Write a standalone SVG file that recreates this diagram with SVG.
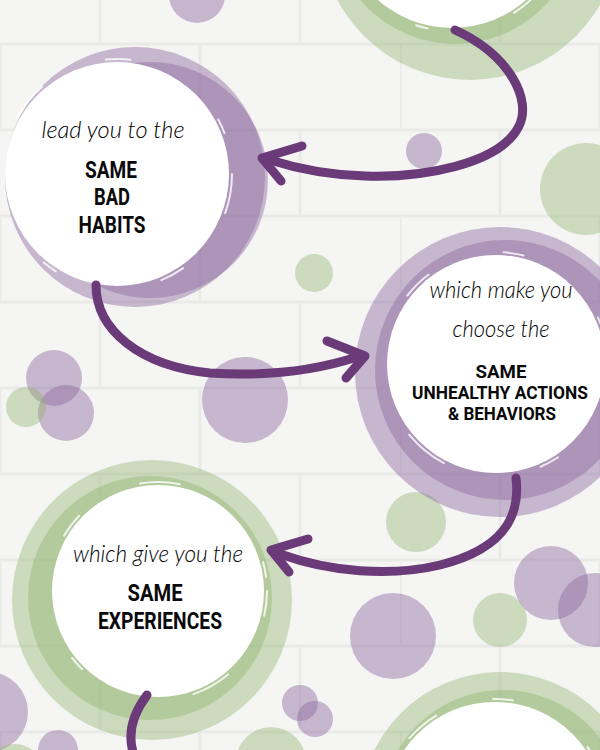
<svg xmlns="http://www.w3.org/2000/svg" width="600" height="750" viewBox="0 0 600 750">
<defs>
<style>
.bg{fill:#f5f5f4}
.seam{stroke:#eaeae8;stroke-width:3;fill:none}
.pu{fill:#8d6a9f;fill-opacity:0.45}
.gr{fill:#8fb56c;fill-opacity:0.4}
.disc{fill:#ffffff}
.brush{fill:none;stroke:#ffffff;stroke-width:2;stroke-linecap:round;stroke-opacity:0.8}
.script{font-family:Lato,"Open Sans",sans-serif;font-weight:300;font-style:italic;font-size:23px;fill:#000000;text-anchor:middle}
.caps{font-family:Roboto,"Liberation Sans",sans-serif;font-weight:bold;font-size:24px;fill:#0a0a0a;text-anchor:middle}
.caps.sm{font-size:19px}
.conn{fill:none;stroke:#6b3a78;stroke-width:9;stroke-linecap:round;stroke-linejoin:round}
</style>
<pattern id="brick" x="0" y="44" width="400" height="172" patternUnits="userSpaceOnUse">
<path class="seam" d="M0 0H400M0 86H400M0 172H400M0 0V86M200 0V86M100 86V172M300 86V172"/>
</pattern>
</defs>
<rect class="bg" x="0" y="0" width="600" height="750"/>
<rect x="0" y="0" width="600" height="750" fill="url(#brick)"/>

<g id="dots">
<circle class="pu" cx="197" cy="-5" r="28"/>
<circle class="pu" cx="424" cy="151" r="18"/>
<circle class="gr" cx="586" cy="189" r="46"/>
<circle class="gr" cx="314" cy="273" r="19"/>
<circle class="pu" cx="54" cy="378" r="28"/>
<circle class="pu" cx="66" cy="413" r="28"/>
<circle class="gr" cx="26" cy="407" r="20"/>
<circle class="pu" cx="245" cy="400" r="43"/>
<circle class="gr" cx="416" cy="522" r="30"/>
<circle class="pu" cx="551" cy="583" r="37"/>
<circle class="pu" cx="595" cy="610" r="37"/>
<circle class="gr" cx="500" cy="620" r="27"/>
<circle class="pu" cx="393" cy="636" r="43"/>
<circle class="pu" cx="300" cy="703" r="18"/>
<circle class="pu" cx="315" cy="719" r="18"/>
<circle class="gr" cx="271" cy="762" r="35"/>
<circle class="pu" cx="-12" cy="712" r="40"/>
<circle class="pu" cx="58" cy="750" r="20"/>
<circle class="gr" cx="15" cy="772" r="28"/>
</g>

<g id="node-top">
<circle class="gr" cx="470" cy="-70" r="150"/>
<circle class="gr" cx="455" cy="-80" r="124"/>
<circle class="disc" cx="452" cy="-84" r="112"/>
<circle class="brush" cx="452" cy="-84" r="115" stroke-dasharray="20 60 35 90 12 140"/>
</g>

<g id="node-habits">
<circle class="pu" cx="135" cy="177" r="130"/>
<circle class="pu" cx="150" cy="180" r="118"/>
<circle class="disc" cx="117" cy="174" r="112"/>
<circle class="brush" cx="117" cy="174" r="115" stroke-dasharray="40 70 25 110 15 160"/>
<text class="script" x="113" y="138" textLength="143" lengthAdjust="spacingAndGlyphs">lead you to the</text>
<text class="caps" x="111" y="178" textLength="52" lengthAdjust="spacingAndGlyphs">SAME</text>
<text class="caps" x="112" y="205" textLength="36" lengthAdjust="spacingAndGlyphs">BAD</text>
<text class="caps" x="112" y="233" textLength="67" lengthAdjust="spacingAndGlyphs">HABITS</text>
</g>

<g id="node-actions">
<circle class="pu" cx="500" cy="372" r="145"/>
<circle class="pu" cx="505" cy="370" r="130"/>
<circle class="disc" cx="496" cy="364" r="109"/>
<circle class="brush" cx="496" cy="364" r="112" stroke-dasharray="30 80 20 100 45 150"/>
<text class="script" x="501" y="298" textLength="143" lengthAdjust="spacingAndGlyphs">which make you</text>
<text class="script" x="501" y="337" textLength="97" lengthAdjust="spacingAndGlyphs">choose the</text>
<text class="caps sm" x="501" y="378" textLength="51" lengthAdjust="spacingAndGlyphs">SAME</text>
<text class="caps sm" x="500" y="399" textLength="176" lengthAdjust="spacingAndGlyphs">UNHEALTHY ACTIONS</text>
<text class="caps sm" x="502" y="420" textLength="108" lengthAdjust="spacingAndGlyphs">&amp; BEHAVIORS</text>
</g>

<g id="node-experiences">
<circle class="gr" cx="152" cy="600" r="140"/>
<circle class="gr" cx="150" cy="598" r="122"/>
<circle class="disc" cx="158" cy="591" r="106"/>
<circle class="brush" cx="158" cy="591" r="109" stroke-dasharray="25 70 40 120 15 130"/>
<text class="script" x="158" y="562" textLength="170" lengthAdjust="spacingAndGlyphs">which give you the</text>
<text class="caps" x="155" y="601" textLength="55" lengthAdjust="spacingAndGlyphs">SAME</text>
<text class="caps" x="160" y="629" textLength="124" lengthAdjust="spacingAndGlyphs">EXPERIENCES</text>
</g>

<g id="node-bottom">
<circle class="gr" cx="500" cy="812" r="140"/>
<circle class="gr" cx="503" cy="812" r="122"/>
<circle class="disc" cx="495" cy="812" r="110"/>
<circle class="brush" cx="495" cy="812" r="113" stroke-dasharray="35 60 20 90 30 200"/>
</g>

<g id="connectors">
<path class="conn" d="M455 30 C510 55 532 100 519 126 C500 165 420 178 365 176 C330 175 295 168 270 160"/>
<path class="conn" d="M302 146 L262 158 L281 181"/>
<path class="conn" d="M96 285 C96 330 140 366 210 373 C270 377 320 369 357 357"/>
<path class="conn" d="M327 341 L365 356 L346 378"/>
<path class="conn" d="M516 478 C521 520 500 550 440 565 C390 577 330 572 280 554"/>
<path class="conn" d="M308 539 L271 550 L289 572"/>
<path class="conn" d="M147 695 C132 715 127 735 134 755"/>
</g>
</svg>
